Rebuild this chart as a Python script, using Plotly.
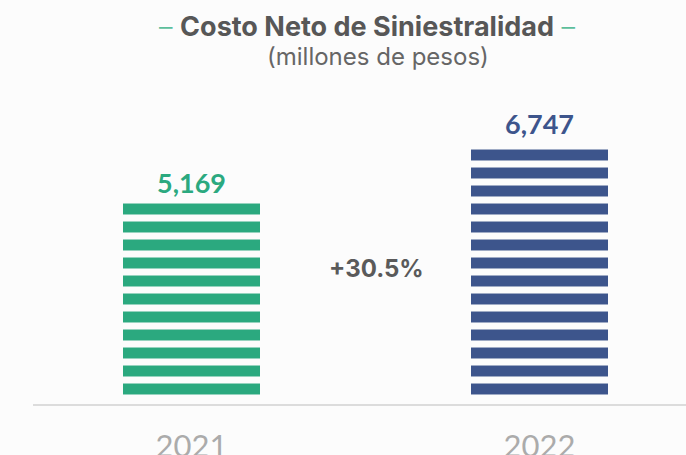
import plotly.graph_objects as go

# ---- data ----
years = ["2021", "2022"]
values = [5169, 6747]
bar_colors = ["#2BA97F", "#3D558C"]
title_text = "Costo Neto de Siniestralidad"
subtitle_text = "(millones de pesos)"

growth = (values[1] / values[0] - 1) * 100
growth_label = f"+{growth:.1f}%"

# ---- layout geometry (pixels) ----
W, H = 686, 455
PL, PR, PT, PB = 33, 686, 92, 404      # plot area edges
ZERO_PX = 396                          # pixel of value 0
SCALE = 0.03748                        # px per unit
y_min = -(PB - ZERO_PX) / SCALE
y_max = (ZERO_PX - PT) / SCALE
CAT_PX = 348                           # px between categories
X0_PX = 191.5                          # centre of first bar
x_min = -(X0_PX - PL) / CAT_PX
x_max = (PR - X0_PX) / CAT_PX


def px_x(p):
    return (p - PL) / (PR - PL)


def px_y(p):
    return (PB - p) / (PB - PT)


NUM_FONT = "Lato"
TXT_FONT = "Inter"

fig = go.Figure()
fig.add_trace(go.Bar(
    x=[0, 1],
    y=values,
    width=137 / CAT_PX,
    marker=dict(
        color=bar_colors,
        line=dict(width=0),
        pattern=dict(shape="-", fgcolor=bar_colors, bgcolor="rgba(0,0,0,0)",
                     size=18, solidity=0.61, fillmode="replace"),
    ),
    text=[f"{v:,}" for v in values],
    textposition="outside",
    textfont=dict(family=NUM_FONT, size=27, color=bar_colors, weight="bold"),
    cliponaxis=False,
    hoverinfo="skip",
    showlegend=False,
))

dash = "<span style='color:#5DBE9B;font-weight:300'>–</span>"
fig.add_annotation(
    xref="paper", yref="paper", x=px_x(367), y=px_y(26),
    text=f"{dash} <b>{title_text}</b> {dash}",
    showarrow=False, xanchor="center", yanchor="middle",
    font=dict(family=TXT_FONT, size=27, color="#575757"),
)
fig.add_annotation(
    xref="paper", yref="paper", x=px_x(378), y=px_y(57),
    text=subtitle_text,
    showarrow=False, xanchor="center", yanchor="middle",
    font=dict(family=TXT_FONT, size=24, color="#666666"),
)
fig.add_annotation(
    xref="paper", yref="paper", x=px_x(376), y=px_y(268),
    text=f"<b>{growth_label}</b>",
    showarrow=False, xanchor="center", yanchor="middle",
    font=dict(family=TXT_FONT, size=24, color="#5a5a5a"),
)

fig.update_layout(
    width=W, height=H,
    margin=dict(l=PL, r=W - PR, t=PT, b=H - PB, pad=0, autoexpand=False),
    paper_bgcolor="#fcfcfc",
    plot_bgcolor="rgba(0,0,0,0)",
    font=dict(family=TXT_FONT),
    bargap=0,
    xaxis=dict(
        range=[x_min, x_max], automargin=False,
        tickmode="array", tickvals=[0, 1], ticktext=years,
        showgrid=False, zeroline=False,
        showline=True, linecolor="#dcdcdc", linewidth=2,
        ticks="", ticklabelstandoff=14,
        tickfont=dict(family=NUM_FONT, size=31, color="#ababab"),
        fixedrange=True,
    ),
    yaxis=dict(
        range=[y_min, y_max], automargin=False,
        visible=False, showgrid=False, zeroline=False,
        fixedrange=True,
    ),
)

fig.write_html(
    "out.html",
    config={"displayModeBar": False},
    post_script="document.body.style.margin='0';document.body.style.overflow='hidden';",
)
